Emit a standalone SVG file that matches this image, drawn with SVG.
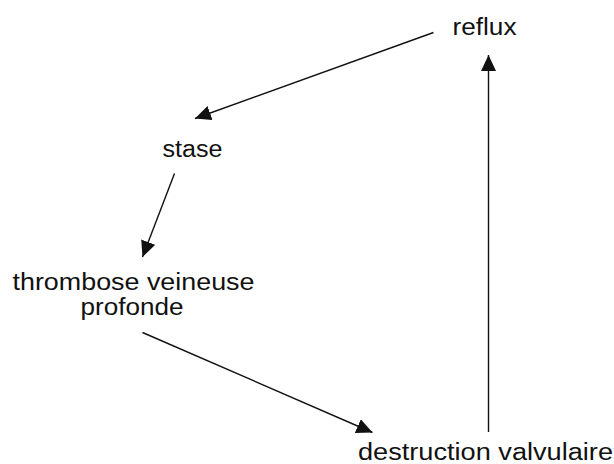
<svg xmlns="http://www.w3.org/2000/svg" width="614" height="464" viewBox="0 0 614 464">
<style>
text{font-family:"Liberation Sans",Arial,sans-serif;font-size:23px;fill:#111}
.c line{stroke:#111;stroke-width:1.4;marker-end:url(#ah)}
</style>
<defs>
<marker id="ah" markerUnits="userSpaceOnUse" markerWidth="16" markerHeight="15" refX="16" refY="7.5" orient="auto" viewBox="0 0 16 15">
<path d="M0,0 L16,7.5 L0,15 z" fill="#111"/>
</marker>
</defs>
<rect width="614" height="464" fill="#fff"/>
<g id="reflux"><text x="452.5" y="35" textLength="64" lengthAdjust="spacingAndGlyphs">reflux</text></g>
<g id="stase"><text x="162.5" y="157" textLength="60" lengthAdjust="spacingAndGlyphs">stase</text></g>
<g id="tvp">
<text x="12.5" y="290" textLength="242" lengthAdjust="spacingAndGlyphs">thrombose veineuse</text>
<text x="80.5" y="315" textLength="103" lengthAdjust="spacingAndGlyphs">profonde</text>
</g>
<g id="destruction"><text x="358" y="460" textLength="255" lengthAdjust="spacingAndGlyphs">destruction valvulaire</text></g>
<g class="c" id="connectors">
<line x1="433.5" y1="32.5" x2="195" y2="118.5"/>
<line x1="174.5" y1="173.5" x2="142.5" y2="257"/>
<line x1="142.5" y1="332.5" x2="372.5" y2="432.5"/>
<line x1="488.5" y1="432" x2="488.5" y2="55"/>
</g>
</svg>
